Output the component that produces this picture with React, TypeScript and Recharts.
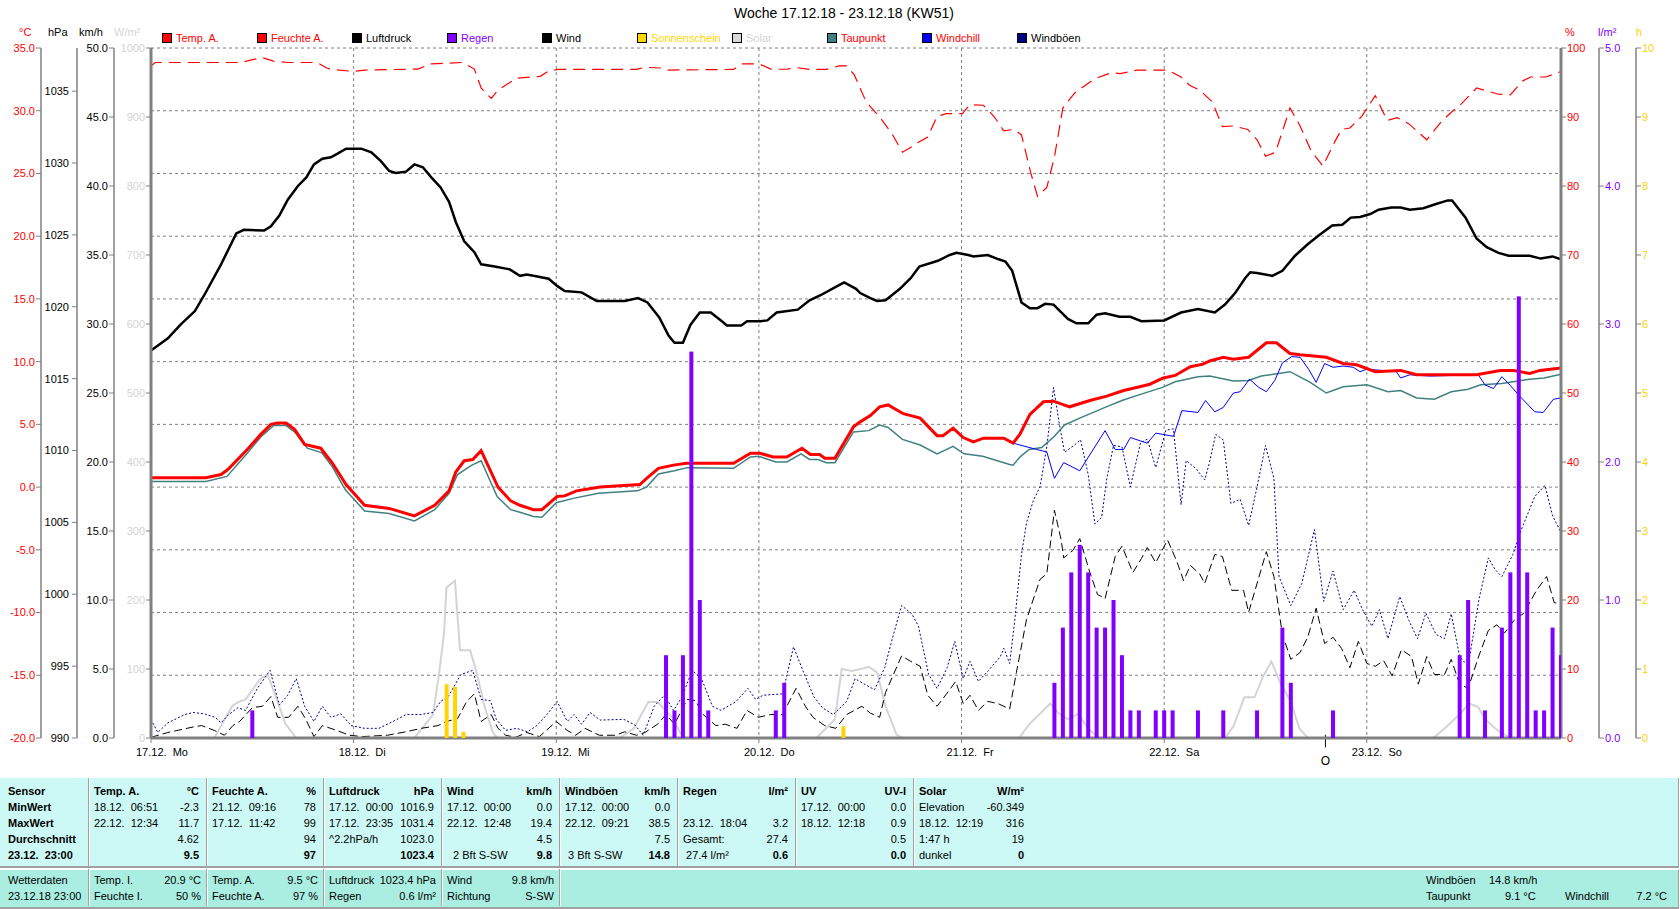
import React from "react";
import {
  ComposedChart,
  Line,
  Bar,
  XAxis,
  YAxis,
  CartesianGrid,
  ReferenceLine,
} from "recharts";

const FONT = '"Liberation Sans", Arial, sans-serif';

// hours since 17.12. 00:00
const dayTicks = [0, 24, 48, 72, 96, 120, 144];
const dayLabels = ["17.12.  Mo", "18.12.  Di", "19.12.  Mi", "20.12.  Do", "21.12.  Fr", "22.12.  Sa", "23.12.  So"];
const fullMoonHour = 139.1;

const tempTicks = [-20, -15, -10, -5, 0, 5, 10, 15, 20, 25, 30, 35];
const hpaTicks = [990, 995, 1000, 1005, 1010, 1015, 1020, 1025, 1030, 1035];
const kmhTicks = [0, 5, 10, 15, 20, 25, 30, 35, 40, 45, 50];
const solarTicks = [0, 100, 200, 300, 400, 500, 600, 700, 800, 900, 1000];
const humTicks = [0, 10, 20, 30, 40, 50, 60, 70, 80, 90, 100];
const rainTicks = [0, 1, 2, 3, 4, 5];
const sunTicks = [0, 1, 2, 3, 4, 5, 6, 7, 8, 9, 10];

const tempHours = [0, 6.5, 8.3, 9.1, 11.4, 13, 14.2, 15, 16, 17, 18.2, 20.1, 21.5, 23.1, 25.3, 28.2, 31.2, 33.6, 35.3, 36.1, 37.1, 38.1, 39.1, 41.1, 42.6, 43.7, 45.3, 46.3, 48.1, 49, 50.4, 53.2, 57.9, 58.7, 60.1, 61.9, 63.4, 69, 71, 72.1, 73.7, 75.3, 77.1, 78.1, 79.2, 79.8, 81, 83.2, 84, 85.2, 86.3, 87.3, 89.1, 91.1, 93.1, 93.8, 95, 96.2, 97.4, 98.6, 101, 102.1, 102.9, 104.1, 105.7, 106.9, 108.8, 111.2, 113.2, 115.2, 117.1, 118.3, 119.9, 121.3, 123.1, 124.6, 125.4, 127, 128.2, 130, 132.1, 133.3, 134.9, 136.1, 139.2, 141.2, 142.8, 145, 148, 149.9, 157, 159.8, 161.4, 163.3, 164.5, 167];
const tempValues = [0.75, 0.75, 1.0, 1.4, 3.0, 4.2, 5.0, 5.1, 5.1, 4.6, 3.4, 3.1, 1.9, 0.2, -1.45, -1.7, -2.3, -1.45, -0.3, 1.2, 2.1, 2.2, 2.9, 0.0, -1.1, -1.45, -1.8, -1.8, -0.75, -0.7, -0.3, 0.0, 0.2, 0.7, 1.5, 1.75, 1.9, 1.9, 2.7, 2.7, 2.4, 2.4, 3.1, 2.6, 2.6, 2.3, 2.3, 4.8, 5.2, 5.7, 6.4, 6.55, 5.85, 5.5, 4.1, 4.1, 4.7, 3.95, 3.6, 3.9, 3.9, 3.5, 4.2, 5.8, 6.8, 6.85, 6.4, 6.9, 7.25, 7.7, 8.0, 8.2, 8.7, 8.9, 9.6, 9.8, 10.05, 10.35, 10.2, 10.35, 11.5, 11.5, 10.65, 10.55, 10.35, 9.85, 9.75, 9.2, 9.3, 8.95, 8.95, 9.3, 9.3, 9.05, 9.3, 9.5];

const dewHours = [0, 6.5, 9, 11.4, 13, 14.5, 16, 17, 18.5, 20.2, 21.5, 23, 25.3, 28.2, 31.2, 33.6, 35.3, 36.3, 38, 39.1, 41, 42.6, 43.7, 45.3, 46.3, 48, 50, 53, 57.6, 58.7, 60.1, 62, 63.5, 69, 71, 72, 74, 75.3, 77, 78, 79, 80, 81, 83.2, 85, 86.3, 87.3, 89, 91.1, 93.1, 95, 96.3, 98.5, 101.7, 102.1, 103, 104, 105.5, 107, 108.2, 110, 113, 115, 117, 119.8, 121.3, 124, 125.4, 128.2, 130, 131.5, 134.9, 137.3, 139.2, 141.2, 144, 146.5, 148, 149.9, 152, 154, 156, 157.5, 160, 163.3, 165, 167];
const dewValues = [0.45, 0.45, 0.85, 2.7, 4.0, 4.9, 4.9, 4.4, 3.1, 2.75, 1.6, -0.2, -1.9, -2.1, -2.7, -1.8, -0.5, 1.0, 1.75, 2.1, -0.75, -1.8, -2.0, -2.35, -2.4, -1.25, -0.9, -0.5, -0.3, 0.0, 1.05, 1.3, 1.55, 1.5, 2.4, 2.45, 2.0, 2.0, 2.65, 2.2, 2.2, 1.95, 1.95, 4.4, 4.5, 4.95, 4.75, 3.8, 3.35, 2.65, 3.25, 2.65, 2.45, 1.8, 1.75, 2.45, 3.0, 3.15, 4.05, 4.95, 5.5, 6.35, 6.9, 7.35, 7.95, 8.4, 8.8, 8.85, 8.45, 8.5, 8.85, 9.2, 8.35, 7.5, 8.0, 8.15, 7.6, 7.7, 7.1, 7.0, 7.6, 7.8, 8.15, 8.25, 8.6, 8.7, 9.0];

// windchill only drawn where it leaves the temperature curve
const chillHours = [102.1, 104.9, 106.1, 107, 108.1, 110, 113, 114.2, 115.2, 116, 118, 119, 121.1, 122.1, 124, 124.9, 126, 127, 128.2, 129, 130.1, 131.2, 132.1, 133.1, 134, 135.1, 136.1, 137.1, 138, 139, 140, 141.2, 142.4, 143.2, 144, 147.5, 148, 149.1, 151.5, 157.2, 158, 159, 160, 161, 162.1, 163.9, 164.9, 166.1, 167];
const chillValues = [3.5, 3.0, 2.8, 0.7, 1.95, 1.3, 4.5, 3.0, 3.0, 3.95, 3.5, 4.3, 4.05, 6.1, 5.95, 6.9, 6.0, 6.35, 7.5, 7.6, 8.6, 7.95, 7.6, 8.5, 9.9, 10.4, 10.35, 9.4, 8.35, 9.85, 9.55, 9.65, 9.55, 9.2, 9.4, 9.2, 8.7, 8.95, 8.85, 8.95, 8.15, 7.85, 8.8, 8.1, 7.25, 6.0, 5.95, 7.0, 7.1];

const pressHours = [0, 2, 3.5, 5.2, 6.3, 8.3, 10.1, 11, 13.4, 14.2, 15.2, 16.2, 17.4, 18.4, 19.3, 20.3, 21.3, 22.1, 23.1, 24.9, 26.1, 27.2, 28.2, 29, 30.2, 31.2, 32.2, 33.2, 34.3, 35.3, 36.1, 37.1, 38.3, 39.1, 40.7, 42.5, 43.7, 44.5, 45.3, 47.1, 48.1, 49, 51, 52.8, 56.1, 57.7, 58.8, 60.2, 61.3, 62, 63, 63.9, 65, 66.3, 67.5, 68.2, 69.9, 70.6, 72.2, 73, 74.1, 76.6, 78, 79.3, 81, 82.1, 83.5, 84, 85.2, 86, 87, 88.7, 90, 91, 93.2, 94.6, 95.4, 96.8, 97.4, 99.1, 100.4, 101.2, 102, 103.1, 104.1, 105, 105.9, 106.9, 108.6, 109.6, 111, 112, 113, 114.7, 116, 117.3, 120, 122, 124, 126, 127.2, 128.4, 129.6, 130.2, 131, 132.8, 134, 135.5, 137, 138.3, 139.9, 141.1, 142.1, 143.2, 144.4, 145.4, 146.9, 148, 149.1, 150.7, 152.2, 153.6, 154.1, 155.7, 157, 158.2, 159.6, 160.8, 163.3, 164.6, 166, 167];
const pressValues = [1016.95, 1017.8, 1018.75, 1019.7, 1020.8, 1022.95, 1025.1, 1025.35, 1025.3, 1025.6, 1026.35, 1027.45, 1028.4, 1029.0, 1029.9, 1030.3, 1030.4, 1030.65, 1031.0, 1031.0, 1030.75, 1030.15, 1029.45, 1029.3, 1029.4, 1029.9, 1029.7, 1029.0, 1028.3, 1027.3, 1025.9, 1024.55, 1023.8, 1022.95, 1022.8, 1022.6, 1022.15, 1022.25, 1022.15, 1021.95, 1021.45, 1021.1, 1021.0, 1020.4, 1020.4, 1020.6, 1020.3, 1019.25, 1018.0, 1017.5, 1017.5, 1018.75, 1019.6, 1019.6, 1019.05, 1018.7, 1018.7, 1019.0, 1019.0, 1019.05, 1019.6, 1019.8, 1020.45, 1020.8, 1021.35, 1021.7, 1021.25, 1020.95, 1020.6, 1020.4, 1020.45, 1021.25, 1022.0, 1022.8, 1023.2, 1023.6, 1023.75, 1023.6, 1023.5, 1023.6, 1023.3, 1023.15, 1022.5, 1020.3, 1019.9, 1019.9, 1020.2, 1020.15, 1019.15, 1018.85, 1018.85, 1019.45, 1019.55, 1019.3, 1019.3, 1019.0, 1019.05, 1019.6, 1019.85, 1019.6, 1020.15, 1020.95, 1022.0, 1022.4, 1022.35, 1022.15, 1022.5, 1023.55, 1024.35, 1024.95, 1025.65, 1025.7, 1026.2, 1026.25, 1026.45, 1026.75, 1026.9, 1026.9, 1026.75, 1026.85, 1027.15, 1027.4, 1027.4, 1026.2, 1024.75, 1024.15, 1023.75, 1023.55, 1023.55, 1023.35, 1023.5, 1023.3];

const humHours = [0, 0.5, 10.7, 11.8, 13.2, 14.5, 16.2, 19.7, 20.8, 21.5, 24, 25.3, 31.6, 33.2, 36.9, 38.3, 39.1, 40.3, 41.1, 42.5, 43.2, 45, 46.1, 47, 48.2, 57.5, 58.5, 60.3, 61, 69, 70, 72, 73.5, 75.4, 76.2, 78, 80, 81.5, 82.4, 83.3, 84.7, 86.3, 87.7, 89, 90, 91, 92, 93.1, 94.2, 96.1, 97, 98.6, 99.9, 101, 102.2, 103.1, 104.2, 105, 106.1, 107, 108, 109.4, 111.7, 113.7, 114.8, 116.8, 120.4, 122, 123, 124.2, 125.7, 126.9, 128.2, 129.9, 131, 132, 133.2, 134.9, 136.1, 137.4, 138.8, 140.2, 141, 142, 143.4, 145, 146.4, 147.6, 149, 151.1, 152.8, 154.1, 155.2, 157, 159.6, 161, 162.4, 163.4, 165.2, 167];
const humValues = [97.4, 97.9, 97.9, 98.25, 98.6, 98.1, 97.9, 97.9, 97.1, 96.9, 96.6, 96.8, 96.95, 97.7, 97.9, 96.95, 94.2, 92.7, 93.9, 95.0, 95.6, 95.8, 95.9, 96.6, 96.9, 96.9, 97.2, 97.1, 96.8, 96.9, 97.7, 97.7, 96.9, 96.95, 97.2, 96.9, 96.9, 97.4, 97.4, 96.1, 92.2, 90.0, 87.7, 84.9, 85.6, 86.4, 87.1, 90.1, 90.5, 90.5, 91.8, 91.7, 90.0, 88.0, 88.2, 87.4, 81.9, 78.5, 79.8, 84.2, 91.3, 93.5, 95.5, 96.4, 96.3, 96.8, 96.8, 95.8, 94.6, 93.9, 92.2, 88.6, 88.7, 88.2, 86.7, 84.3, 84.9, 91.3, 88.7, 85.1, 82.9, 86.4, 88.2, 88.4, 90.1, 93.1, 89.5, 89.9, 89.0, 86.7, 89.3, 90.8, 91.9, 94.2, 93.3, 93.2, 95.2, 95.8, 95.8, 96.6];

const windHours = [0, 2, 5, 6, 7.5, 8.7, 9.7, 10.5, 12, 13.2, 14.2, 15, 16.3, 17.4, 18.3, 19.3, 20.3, 22, 23.5, 25, 28, 30.2, 32, 34, 35, 36.3, 37.4, 38.3, 39.1, 40.3, 41.1, 42, 43.2, 44.5, 46, 48, 49.3, 50.3, 51.4, 53.1, 55, 56.1, 57.5, 58.5, 60, 61, 62, 63.5, 64.5, 65.4, 66.9, 68, 69.4, 70.6, 71.9, 73.4, 74.8, 76.4, 77.5, 78.4, 79.8, 81.1, 82.4, 84.2, 85.2, 86.3, 87, 88.9, 90, 91.1, 92, 93.1, 94.6, 95.3, 96.2, 97, 98, 99.1, 100.3, 101.7, 102.5, 103.7, 105.3, 106.1, 107, 107.8, 108.1, 109.2, 110, 111.2, 112.1, 113, 114.2, 115, 116.3, 117.3, 118, 119, 120.4, 121.5, 122.3, 123.1, 124.2, 124.8, 126, 126.9, 128, 129.4, 130, 132.1, 133, 134, 135, 136.1, 137, 138, 139, 140, 141, 142, 143, 144, 145, 146, 147, 148.1, 149.3, 150.1, 151.1, 152, 153.2, 154, 155, 156, 157.3, 158.4, 159.4, 160.3, 161.4, 162.6, 164.1, 165.3, 166.2, 167];
const windValues = [0.05, 0.4, 0.8, 0.9, 0.55, 0.2, 0.9, 1.2, 2.2, 2.3, 3.0, 1.5, 1.5, 2.3, 1.4, 0.1, 0.9, 0.55, 0.2, 0.1, 0.2, 0.45, 0.7, 0.9, 1.2, 1.4, 2.65, 3.2, 1.2, 1.7, 0.7, 0.2, 0.05, 0.4, 0.1, 1.2, 0.55, 0.2, 0.7, 0.2, 0.2, 0.45, 0.2, 0.4, 1.0, 1.7, 1.0, 2.8, 2.7, 1.7, 0.9, 1.0, 0.7, 2.0, 1.5, 1.7, 1.7, 3.6, 2.3, 1.5, 0.9, 0.7, 1.7, 2.3, 1.8, 1.5, 3.3, 5.95, 5.55, 5.2, 3.1, 2.3, 3.5, 4.1, 2.5, 3.1, 2.0, 2.65, 2.5, 2.1, 4.75, 8.6, 11.5, 11.9, 16.5, 14.35, 13.05, 13.6, 14.45, 12.0, 10.4, 10.1, 13.15, 13.9, 12.0, 13.0, 13.8, 12.7, 14.35, 12.8, 11.4, 12.5, 11.9, 11.2, 13.3, 13.15, 10.7, 10.7, 9.1, 13.5, 11.7, 7.5, 5.7, 6.2, 7.3, 9.4, 6.85, 7.3, 6.5, 5.1, 7.0, 5.4, 5.2, 5.6, 4.5, 6.4, 5.9, 3.9, 5.9, 4.6, 4.6, 5.7, 3.9, 3.6, 6.0, 7.8, 8.2, 7.6, 8.5, 9.05, 10.7, 11.7, 9.8, 9.75];

const gustHours = [0, 0.8, 2, 4, 5, 6.3, 7.6, 8.3, 9.2, 10.3, 11.2, 12.6, 14.1, 15.2, 16.2, 17.2, 18.2, 19.3, 20.3, 21.3, 22.5, 23.7, 25.3, 27, 29, 30.2, 32, 33.4, 34.3, 35.2, 36.7, 38.1, 39.1, 40.2, 40.9, 42, 43.3, 44.6, 45.7, 46.9, 48.1, 49.3, 50.1, 51, 52, 53.2, 56, 57.3, 58.3, 59.6, 60.8, 61.9, 62.9, 64.1, 65.2, 66.5, 67.5, 69.3, 70.7, 71.6, 72.5, 74.8, 76.1, 77.3, 78.5, 79.5, 80.8, 82.4, 83.4, 84.2, 85.7, 86.9, 87.8, 88.9, 90.1, 90.9, 92.1, 93.1, 94.3, 95.2, 96.2, 97, 98, 99.2, 100.6, 101, 101.7, 102.3, 103.1, 103.7, 104.5, 105.3, 106.1, 106.9, 107.6, 108.2, 109.3, 110.1, 111, 111.8, 112.6, 113.2, 114, 115, 116, 117.2, 118, 119, 120.2, 121.1, 122, 122.6, 123.8, 124.8, 125.3, 126.1, 127, 127.9, 129, 130, 131, 132, 133, 133.6, 135, 136.3, 137.8, 138.9, 140, 141.2, 142.5, 143.5, 144.6, 145.5, 146.5, 147.9, 149, 150, 151, 152.2, 153.2, 154, 155, 156, 157.3, 158.4, 159.2, 160, 161.3, 162.3, 163.9, 165.1, 166, 167];
const gustValues = [1.35, 0.4, 1.1, 1.7, 1.85, 1.75, 1.5, 1.1, 1.7, 2.2, 2.0, 3.6, 4.9, 2.4, 3.1, 4.3, 2.3, 1.2, 2.3, 1.5, 1.75, 0.9, 0.7, 0.7, 1.3, 1.7, 1.7, 1.85, 2.65, 3.0, 4.6, 4.9, 2.8, 2.7, 1.35, 0.55, 0.7, 0.45, 0.9, 1.7, 2.65, 1.2, 1.7, 1.0, 1.85, 1.3, 1.35, 0.95, 0.2, 2.3, 3.1, 2.0, 3.0, 4.9, 4.3, 2.3, 2.0, 2.65, 3.6, 2.8, 3.1, 3.2, 6.6, 4.75, 3.0, 2.2, 1.7, 2.65, 4.3, 4.0, 3.5, 5.1, 7.2, 9.6, 9.0, 8.1, 4.6, 3.6, 5.1, 7.0, 4.3, 5.55, 4.1, 4.9, 5.9, 6.5, 5.4, 8.5, 13.3, 15.6, 17.2, 18.2, 21.1, 25.4, 22.7, 20.7, 21.2, 21.6, 19.1, 15.5, 16.0, 18.8, 21.2, 21.1, 18.2, 21.4, 21.65, 19.6, 22.3, 22.4, 16.9, 20.1, 19.5, 18.7, 19.8, 22.0, 21.6, 17.0, 17.3, 15.4, 18.2, 21.2, 18.8, 11.7, 9.6, 11.2, 15.1, 9.9, 12.1, 9.3, 10.7, 9.3, 8.1, 9.3, 7.2, 10.25, 8.5, 7.2, 9.05, 7.5, 7.2, 9.0, 5.9, 5.2, 10.1, 13.05, 12.2, 11.7, 13.3, 15.1, 17.5, 18.3, 16.1, 14.9];

const solarHours = [0, 7.5, 9.6, 10.3, 11.2, 12.9, 13.8, 15, 15.9, 17.2, 31.2, 33.4, 34.1, 34.7, 35, 36, 36.6, 37.8, 38.5, 39.5, 40.5, 41, 55.5, 57.2, 58.9, 60, 61.7, 62.8, 63.5, 78.8, 80.2, 81, 81.8, 83, 84.4, 85, 86, 87, 88.3, 89, 102.8, 104.1, 105.7, 106.5, 107.4, 108.6, 109.8, 111, 112.2, 127.2, 128.2, 129.5, 130.7, 131.7, 132.7, 133.8, 135, 136, 137, 151.9, 153.5, 155.2, 156.1, 157.2, 158, 159.5, 161, 167];
const solarValues = [0, 0, 46, 52, 56, 85, 92, 53, 21, 0, 0, 34, 92, 150, 218, 228, 127, 127, 98, 46, 8, 0, 0, 14, 52, 52, 30, 5, 0, 0, 17, 27, 100, 97, 101, 103, 95, 46, 5, 0, 0, 21, 40, 50, 37, 27, 35, 14, 0, 0, 17, 59, 59, 89, 111, 79, 53, 14, 0, 0, 17, 37, 50, 45, 27, 11, 0, 0];

const rainHours = [12, 61, 62, 63, 64, 65, 66, 74, 75, 107, 108, 109, 110, 111, 112, 113, 114, 115, 116, 117, 119, 120, 121, 124, 127, 131, 134, 135, 140, 155, 156, 158, 160, 161, 162, 163, 164, 165, 166, 167];
const rainValues = [0.2, 0.6, 0.2, 0.6, 2.8, 1.0, 0.2, 0.2, 0.4, 0.4, 0.8, 1.2, 1.4, 1.2, 0.8, 0.8, 1.0, 0.6, 0.2, 0.2, 0.2, 0.2, 0.2, 0.2, 0.2, 0.2, 0.8, 0.4, 0.2, 0.6, 1.0, 0.2, 0.8, 1.2, 3.2, 1.2, 0.2, 0.2, 0.8, 0.6];

const sunHours = [35, 36, 37, 82];
const sunValues = [0.78, 0.74, 0.09, 0.17];

const toPoints = (hours: number[], values: number[]) =>
  hours.map((h, i) => ({ h, v: values[i] }));

const barData = [
  ...rainHours.map((h, i) => ({ h, rain: rainValues[i] })),
  ...sunHours.map((h, i) => ({ h, sun: sunValues[i] })),
].sort((a, b) => a.h - b.h);

const legendItems = [
  { label: "Temp. A.", box: "#ff0000", text: "#ff0000" },
  { label: "Feuchte A.", box: "#ff0000", text: "#ff0000" },
  { label: "Luftdruck", box: "#000000", text: "#000000" },
  { label: "Regen", box: "#8000ff", text: "#8000ff" },
  { label: "Wind", box: "#000000", text: "#000000" },
  { label: "Sonnenschein", box: "#ffd700", text: "#ffd700" },
  { label: "Solar", box: "#d8d8d8", text: "#d4d4d4" },
  { label: "Taupunkt", box: "#408080", text: "#ff0000" },
  { label: "Windchill", box: "#0000ff", text: "#ff0000" },
  { label: "Windböen", box: "#000080", text: "#000000" },
];

// statistics table
const statRowNames = ["Sensor", "MinWert", "MaxWert", "Durchschnitt", "23.12.  23:00"];
const statColumns = [
  { title: "Temp. A.", unit: "°C", rows: [["18.12.  06:51", "-2.3"], ["22.12.  12:34", "11.7"], ["", "4.62"], ["", "9.5"]] },
  { title: "Feuchte A.", unit: "%", rows: [["21.12.  09:16", "78"], ["17.12.  11:42", "99"], ["", "94"], ["", "97"]] },
  { title: "Luftdruck", unit: "hPa", rows: [["17.12.  00:00", "1016.9"], ["17.12.  23:35", "1031.4"], ["^2.2hPa/h", "1023.0"], ["", "1023.4"]] },
  { title: "Wind", unit: "km/h", rows: [["17.12.  00:00", "0.0"], ["22.12.  12:48", "19.4"], ["", "4.5"], ["  2 Bft S-SW", "9.8"]] },
  { title: "Windböen", unit: "km/h", rows: [["17.12.  00:00", "0.0"], ["22.12.  09:21", "38.5"], ["", "7.5"], [" 3 Bft S-SW", "14.8"]] },
  { title: "Regen", unit: "l/m²", rows: [["", ""], ["23.12.  18:04", "3.2"], ["Gesamt:", "27.4"], [" 27.4 l/m²", "0.6"]] },
  { title: "UV", unit: "UV-I", rows: [["17.12.  00:00", "0.0"], ["18.12.  12:18", "0.9"], ["", "0.5"], ["", "0.0"]] },
  { title: "Solar", unit: "W/m²", rows: [["Elevation", "-60.349"], ["18.12.  12:19", "316"], ["1:47 h", "19"], ["dunkel", "0"]] },
];
const currentColumns = [
  [["Temp. I.", "20.9 °C"], ["Feuchte I.", "50 %"]],
  [["Temp. A.", "9.5 °C"], ["Feuchte A.", "97 %"]],
  [["Luftdruck", "1023.4 hPa"], ["Regen", "0.6 l/m²"]],
  [["Wind", "9.8 km/h"], ["Richtung", "S-SW"]],
];

const COL_X = [88, 206, 323, 441, 559, 677, 795, 913, 1031];

const DayTick = (props: any) => {
  const { x, y, payload } = props;
  const i = dayTicks.indexOf(payload.value);
  return (
    <text x={x - 15} y={y + 11} fontSize={11} fontFamily={FONT} fill="#000" style={{ whiteSpace: "pre" }}>
      {dayLabels[i] ?? ""}
    </text>
  );
};

// thin fixed-width column centred on the bar's own slot
const makeStick = (w: number, color: string) => {
  const Stick = (props: any) => {
    const { x, y, width, height } = props;
    if (!height || height <= 0) return null;
    return <rect x={x + width / 2 - w / 2} y={y} width={w} height={height} fill={color} />;
  };
  return Stick;
};
const RainStick = makeStick(4, "#8000ff");
const SunStick = makeStick(4, "#ffd400");

const tickStyle = (fill: string) => ({ fill, fontSize: 11, fontFamily: FONT });
const grey = "#808080";

const Txt = ({ x, y, children, bold, align, color }: any) => (
  <div
    style={{
      position: "absolute",
      left: align === "right" ? undefined : x,
      right: align === "right" ? 1680 - x : undefined,
      top: y,
      fontSize: 11,
      lineHeight: "16px",
      fontWeight: bold ? 700 : 400,
      whiteSpace: "pre",
      color: color || "#000",
    }}
  >
    {children}
  </div>
);

export default function App() {
  return (
    <div
      style={{
        position: "absolute",
        left: 0,
        top: 0,
        width: 1680,
        height: 909,
        background: "#fff",
        fontFamily: FONT,
        overflow: "hidden",
      }}
    >
      <div style={{ position: "absolute", left: 0, width: 1680, top: 5, textAlign: "center", fontSize: 14, paddingLeft: 4 }}>
        Woche 17.12.18 - 23.12.18 (KW51)
      </div>

      {/* axis units */}
      <Txt x={19} y={24} color="#ff0000">°C</Txt>
      <Txt x={48} y={24}>hPa</Txt>
      <Txt x={79} y={24}>km/h</Txt>
      <Txt x={114} y={24} color="#d4d4d4">W/m²</Txt>
      <Txt x={1565} y={24} color="#ff0000">%</Txt>
      <Txt x={1598} y={24} color="#8000ff">l/m²</Txt>
      <Txt x={1636} y={24} color="#ffd200">h</Txt>

      {/* legend */}
      {legendItems.map((it, i) => (
        <div key={it.label} style={{ position: "absolute", left: 162 + i * 95, top: 30, display: "flex", alignItems: "center" }}>
          <div style={{ width: 8, height: 8, background: it.box, border: "1px solid #000" }} />
          <span style={{ marginLeft: 4, fontSize: 11, color: it.text, lineHeight: "16px" }}>{it.label}</span>
        </div>
      ))}

      <div style={{ position: "absolute", left: 0, top: 0 }}>
        <ComposedChart
          width={1680}
          height={770}
          data={barData}
          margin={{ top: 48, right: 0, bottom: 0, left: 0 }}
        >
          <CartesianGrid yAxisId="d_temp" stroke={grey} strokeDasharray="3 3" />
          <XAxis
            dataKey="h"
            type="number"
            domain={[0, 167]}
            ticks={dayTicks}
            interval={0}
            allowDataOverflow
            height={32}
            tick={<DayTick />}
            tickSize={5}
            tickLine={{ stroke: grey }}
            axisLine={{ stroke: grey, strokeWidth: 3 }}
          />
          <XAxis xAxisId="sun" dataKey="h" type="number" domain={[0, 167]} hide allowDataOverflow />
          <XAxis xAxisId="top" orientation="top" type="number" domain={[0, 167]} height={0} tick={false} tickLine={false} axisLine={{ stroke: grey, strokeWidth: 3 }} />

          {/* left axes, innermost first */}
          <YAxis yAxisId="a_solar" width={37} domain={[0, 1000]} ticks={solarTicks} interval={0} allowDataOverflow
            tick={tickStyle("#d4d4d4")} tickSize={5} tickMargin={1} tickLine={{ stroke: grey }} axisLine={{ stroke: grey, strokeWidth: 3 }} />
          <YAxis yAxisId="b_kmh" width={37} domain={[0, 50]} ticks={kmhTicks} interval={0} allowDataOverflow
            tickFormatter={(v: number) => v.toFixed(1)}
            tick={tickStyle("#000")} tickSize={5} tickMargin={1} tickLine={{ stroke: grey }} axisLine={{ stroke: grey, strokeWidth: 1.5 }} />
          <YAxis yAxisId="c_hpa" width={36} domain={[990, 1038]} ticks={hpaTicks} interval={0} allowDataOverflow
            tick={tickStyle("#000")} tickSize={5} tickMargin={3} tickLine={{ stroke: grey }} axisLine={{ stroke: grey, strokeWidth: 1.5 }} />
          <YAxis yAxisId="d_temp" width={41} domain={[-20, 35]} ticks={tempTicks} interval={0} allowDataOverflow
            tickFormatter={(v: number) => v.toFixed(1)}
            tick={tickStyle("#ff0000")} tickSize={5} tickMargin={1} tickLine={{ stroke: grey }} axisLine={{ stroke: grey, strokeWidth: 1.5 }} />

          {/* right axes, innermost first */}
          <YAxis yAxisId="a_hum" orientation="right" width={38} domain={[0, 100]} ticks={humTicks} interval={0} allowDataOverflow
            tick={tickStyle("#ff0000")} tickSize={5} tickMargin={1} tickLine={{ stroke: grey }} axisLine={{ stroke: grey, strokeWidth: 3 }} />
          <YAxis yAxisId="b_rain" orientation="right" width={37} domain={[0, 5]} ticks={rainTicks} interval={0} allowDataOverflow
            tickFormatter={(v: number) => v.toFixed(1)}
            tick={tickStyle("#8000ff")} tickSize={5} tickMargin={1} tickLine={{ stroke: grey }} axisLine={{ stroke: grey, strokeWidth: 1.5 }} />
          <YAxis yAxisId="c_sunh" orientation="right" width={44} domain={[0, 10]} ticks={sunTicks} interval={0} allowDataOverflow
            tick={tickStyle("#ffd200")} tickSize={5} tickMargin={1} tickLine={{ stroke: grey }} axisLine={{ stroke: grey, strokeWidth: 1.5 }} />

          <Line yAxisId="a_solar" data={toPoints(solarHours, solarValues)} dataKey="v" stroke="#d4d4d4" strokeWidth={2} dot={false} isAnimationActive={false} />
          <Line yAxisId="b_kmh" data={toPoints(windHours, windValues)} dataKey="v" stroke="#000" strokeWidth={1} strokeDasharray="8 4" dot={false} isAnimationActive={false} />
          <Line yAxisId="b_kmh" data={toPoints(gustHours, gustValues)} dataKey="v" stroke="#000090" strokeWidth={1} strokeDasharray="2 2" dot={false} isAnimationActive={false} />
          <Line yAxisId="a_hum" data={toPoints(humHours, humValues)} dataKey="v" stroke="#ff0000" strokeWidth={1.2} strokeDasharray="12 7" dot={false} isAnimationActive={false} />
          <Line yAxisId="c_hpa" data={toPoints(pressHours, pressValues)} dataKey="v" stroke="#000" strokeWidth={2.5} dot={false} isAnimationActive={false} />
          <Line yAxisId="d_temp" data={toPoints(dewHours, dewValues)} dataKey="v" stroke="#408080" strokeWidth={1.5} dot={false} isAnimationActive={false} />
          <Line yAxisId="d_temp" data={toPoints(chillHours, chillValues)} dataKey="v" stroke="#0000ff" strokeWidth={1} dot={false} isAnimationActive={false} />
          <Line yAxisId="d_temp" data={toPoints(tempHours, tempValues)} dataKey="v" stroke="#ff0000" strokeWidth={3} dot={false} isAnimationActive={false} />

          <Bar yAxisId="b_rain" dataKey="rain" fill="#8000ff" shape={<RainStick />} isAnimationActive={false} {...({ zIndex: 500 } as any)} />
          <Bar yAxisId="c_sunh" xAxisId="sun" dataKey="sun" fill="#ffd400" shape={<SunStick />} isAnimationActive={false} {...({ zIndex: 500 } as any)} />

          <ReferenceLine
            yAxisId="d_temp"
            segment={[{ x: fullMoonHour, y: -19.75 }, { x: fullMoonHour, y: -20.75 }]}
            stroke="#000"
            strokeWidth={1}
            ifOverflow="visible"
            label={{ value: "O", position: "bottom", offset: 9, fill: "#000", fontSize: 12 }}
          />
        </ComposedChart>
      </div>

      {/* statistics band */}
      <div style={{ position: "absolute", left: 0, top: 778, width: 1678, height: 88, background: "#ccf9f5", borderRight: "1px solid #a0a0a0", borderBottom: "2px solid #a0a0a0" }} />
      {COL_X.slice(0, 8).map((x) => (
        <div key={"s" + x} style={{ position: "absolute", left: x, top: 778, width: 1, height: 88, background: "#a0a0a0", borderRight: "1px solid #fff" }} />
      ))}
      {statRowNames.map((n, r) => (
        <Txt key={n} x={8} y={783 + r * 16} bold>{n}</Txt>
      ))}
      {statColumns.map((c, ci) => {
        const left = COL_X[ci] + 6;
        const right = COL_X[ci + 1] - 7;
        return (
          <React.Fragment key={c.title}>
            <Txt x={left} y={783} bold>{c.title}</Txt>
            <Txt x={right} y={783} bold align="right">{c.unit}</Txt>
            {c.rows.map((row, r) => (
              <React.Fragment key={r}>
                <Txt x={left} y={799 + r * 16}>{row[0]}</Txt>
                <Txt x={right} y={799 + r * 16} align="right" bold={r === 3}>{row[1]}</Txt>
              </React.Fragment>
            ))}
          </React.Fragment>
        );
      })}

      {/* current values band */}
      <div style={{ position: "absolute", left: 0, top: 869, width: 1678, height: 37, background: "#aaeee2", borderTop: "1px solid #fff", borderRight: "1px solid #a0a0a0", borderBottom: "2px solid #a0a0a0" }} />
      {COL_X.slice(0, 5).map((x) => (
        <div key={"c" + x} style={{ position: "absolute", left: x, top: 869, width: 1, height: 37, background: "#a0a0a0", borderRight: "1px solid #fff" }} />
      ))}
      <Txt x={8} y={872}>Wetterdaten</Txt>
      <Txt x={8} y={888}>23.12.18 23:00</Txt>
      {currentColumns.map((col, ci) => (
        <React.Fragment key={ci}>
          {col.map((row, r) => (
            <React.Fragment key={r}>
              <Txt x={COL_X[ci] + 6} y={872 + r * 16}>{row[0]}</Txt>
              <Txt x={COL_X[ci + 1] - 5} y={872 + r * 16} align="right">{row[1]}</Txt>
            </React.Fragment>
          ))}
        </React.Fragment>
      ))}
      <Txt x={1426} y={872}>Windböen</Txt>
      <Txt x={1489} y={872}>14.8 km/h</Txt>
      <Txt x={1426} y={888}>Taupunkt</Txt>
      <Txt x={1505} y={888}>9.1 °C</Txt>
      <Txt x={1565} y={888}>Windchill</Txt>
      <Txt x={1667} y={888} align="right">7.2 °C</Txt>
    </div>
  );
}
